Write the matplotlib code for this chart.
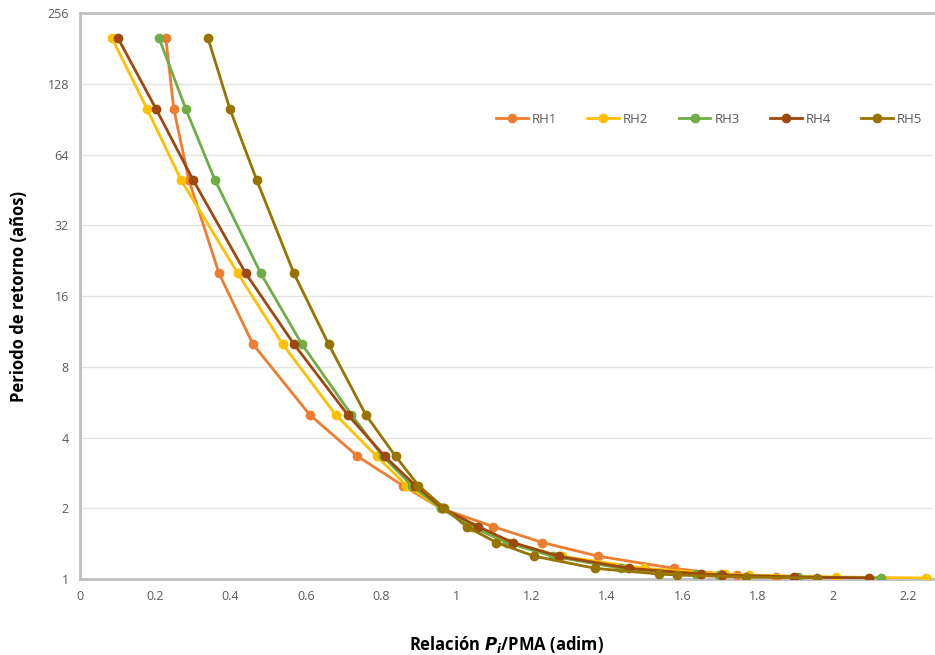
import matplotlib.pyplot as plt
from matplotlib.ticker import FixedLocator, FixedFormatter

# return periods (years)
T = [200, 100, 50, 20, 10, 5, 3.33, 2.5, 2, 1.67, 1.43, 1.25, 1.11, 1.05, 1.04, 1.02, 1.01]

rh1 = [0.228, 0.249, 0.289, 0.369, 0.459, 0.610, 0.737, 0.857, 0.958, 1.098, 1.228, 1.377, 1.578, 1.706, 1.745, 1.849, 1.907]
rh2 = [0.085, 0.178, 0.268, 0.419, 0.538, 0.679, 0.788, 0.867, 0.958, 1.045, 1.141, 1.279, 1.499, 1.714, 1.777, 2.008, 2.247]
rh3 = [0.210, 0.281, 0.358, 0.480, 0.589, 0.721, 0.804, 0.881, 0.958, 1.040, 1.133, 1.255, 1.438, 1.637, 1.698, 1.907, 2.127]
rh4 = [0.101, 0.202, 0.300, 0.440, 0.568, 0.711, 0.809, 0.891, 0.963, 1.058, 1.149, 1.271, 1.459, 1.650, 1.706, 1.897, 2.095]
rh5 = [0.340, 0.398, 0.469, 0.568, 0.660, 0.759, 0.838, 0.899, 0.968, 1.027, 1.106, 1.207, 1.369, 1.538, 1.586, 1.769, 1.958]

series = [rh1, rh2, rh3, rh4, rh5]
names = ["RH1", "RH2", "RH3", "RH4", "RH5"]
colors = ["#ED7D31", "#FFC000", "#70AD47", "#9E480E", "#997300"]

y_ticks = [1, 2, 4, 8, 16, 32, 64, 128, 256]
x_ticks = [0, 0.2, 0.4, 0.6, 0.8, 1, 1.2, 1.4, 1.6, 1.8, 2, 2.2]
x_labels = ["0", "0.2", "0.4", "0.6", "0.8", "1", "1.2", "1.4", "1.6", "1.8", "2", "2.2"]

plt.rcParams['font.family'] = ['Open Sans', 'DejaVu Sans']

fig = plt.figure(figsize=(9.35, 6.55), dpi=100)
ax = fig.add_axes([0.0856, 0.116, 0.912, 0.864])

for xs, name, c in zip(series, names, colors):
    ax.plot(xs, T, color=c, lw=2, marker="o", ms=6, label=name, zorder=3)

ax.set_yscale("log", base=2)
ax.set_ylim(1, 256)
ax.set_xlim(0, 2.265)
ax.yaxis.set_major_locator(FixedLocator(y_ticks))
ax.yaxis.set_major_formatter(FixedFormatter([str(v) for v in y_ticks]))
ax.yaxis.set_minor_locator(FixedLocator([]))
ax.xaxis.set_major_locator(FixedLocator(x_ticks))
ax.xaxis.set_major_formatter(FixedFormatter(x_labels))

ax.grid(axis="y", color="#E3E3E3", lw=1)
ax.set_axisbelow(True)
for s in ["left", "bottom", "top"]:
    ax.spines[s].set_color("#BFBFBF")
    ax.spines[s].set_linewidth(2)
ax.spines["right"].set_visible(False)
ax.tick_params(length=0, labelsize=9, colors="#595959", pad=8)

ax.set_xlabel("Relación $\\mathbfit{P_i}$/PMA (adim)", fontsize=12, fontweight="bold", labelpad=22)
ax.set_ylabel("Periodo de retorno (años)", fontsize=12, fontweight="bold", labelpad=14)

leg = ax.legend(loc="upper left", bbox_to_anchor=(0.474, 0.845), ncol=5, frameon=False,
                fontsize=9.5, handlelength=2.4, columnspacing=2.3, handletextpad=0.3)
for t in leg.get_texts():
    t.set_color("#595959")

plt.savefig("out.png", dpi=100)
